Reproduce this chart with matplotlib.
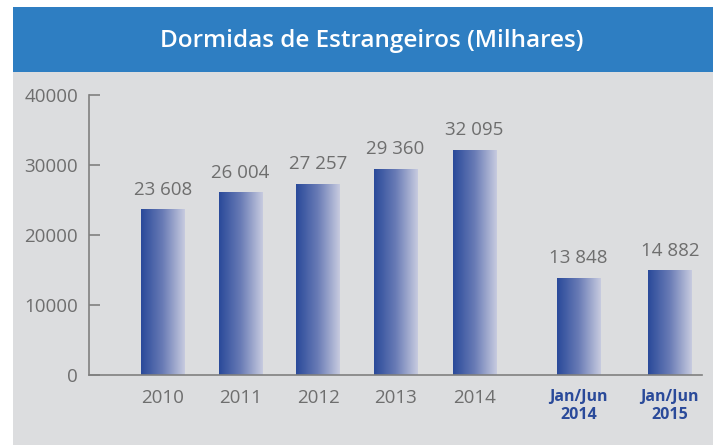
import numpy as np
import matplotlib
matplotlib.use("Agg")
import matplotlib.pyplot as plt
from matplotlib.patches import Rectangle
from matplotlib.colors import LinearSegmentedColormap

plt.rcParams['font.family'] = ['Open Sans', 'DejaVu Sans']

# data
categories = ["2010", "2011", "2012", "2013", "2014", "Jan/Jun\n2014", "Jan/Jun\n2015"]
values = [23608, 26004, 27257, 29360, 32095, 13848, 14882]
value_labels = ["23 608", "26 004", "27 257", "29 360", "32 095", "13 848", "14 882"]
yticks = [0, 10000, 20000, 30000, 40000]
title = "Dormidas de Estrangeiros (Milhares)"

# layout
xpos = [0, 1, 2, 3, 4.02, 5.36, 6.54]
bar_w = 0.56
W, H = 713, 445

fig = plt.figure(figsize=(W / 100, H / 100), dpi=100)
fig.patch.set_facecolor("white")

#background panels (figure pixel coords -> fraction)
fig.patches.append(Rectangle((13 / W, 0), 1 - 13 / W, (H - 72) / H, transform=fig.transFigure,
                             facecolor="#dcdddf", edgecolor="none", zorder=-2))
fig.patches.append(Rectangle((13 / W, (H - 72) / H), 1 - 13 / W, 65 / H, transform=fig.transFigure,
                             facecolor="#2e7ec2", edgecolor="none", zorder=-2))
fig.text(372 / W, (H - 41) / H, title, color="white", fontsize=17.5, fontweight="semibold",
         ha="center", va="center")

ax = fig.add_axes([89 / W, 70 / H, (702 - 89) / W, 280 / H])
ax.set_zorder(1)
ax.set_facecolor("none")

cmap = LinearSegmentedColormap.from_list("grad", ["#2a4a9a", "#6a7cb6", "#c6cadf"])
grad = np.linspace(0, 1, 64).reshape(1, -1)
for x, v in zip(xpos, values):
    ax.imshow(grad, cmap=cmap, aspect="auto", interpolation="bilinear",
              extent=(x - bar_w / 2, x + bar_w / 2, 0, v), zorder=2)

for x, v, lab in zip(xpos, values, value_labels):
    ax.annotate(lab, (x, v), xytext=(0, 8), textcoords="offset points",
                ha="center", va="bottom", fontsize=13.5, color="#6e6e6e")

ax.set_xlim(-0.955, 6.955)
ax.set_ylim(0, 40000)

ax.set_yticks(yticks)
ax.set_yticklabels([str(t) for t in yticks], fontsize=13.5, color="#6e6e6e")
ax.tick_params(axis="y", direction="in", length=8, width=1.2, color="#808080", pad=8)

ax.set_xticks(xpos)
ax.set_xticklabels(categories)
ax.tick_params(axis="x", length=0, pad=10)
for lab in ax.get_xticklabels():
    if "Jan" in lab.get_text():
        lab.set_color("#2a4a9a")
        lab.set_fontsize(11.5)
        lab.set_fontweight("bold")
        lab.set_linespacing(1.2)
    else:
        lab.set_color("#6e6e6e")
        lab.set_fontsize(13.5)

for s in ["top", "right"]:
    ax.spines[s].set_visible(False)
ax.spines["left"].set_color("#808080")
ax.spines["bottom"].set_color("#808080")
ax.spines["left"].set_linewidth(1.2)
ax.spines["bottom"].set_linewidth(1.2)

fig.savefig("out.png", dpi=100, facecolor=fig.get_facecolor())
